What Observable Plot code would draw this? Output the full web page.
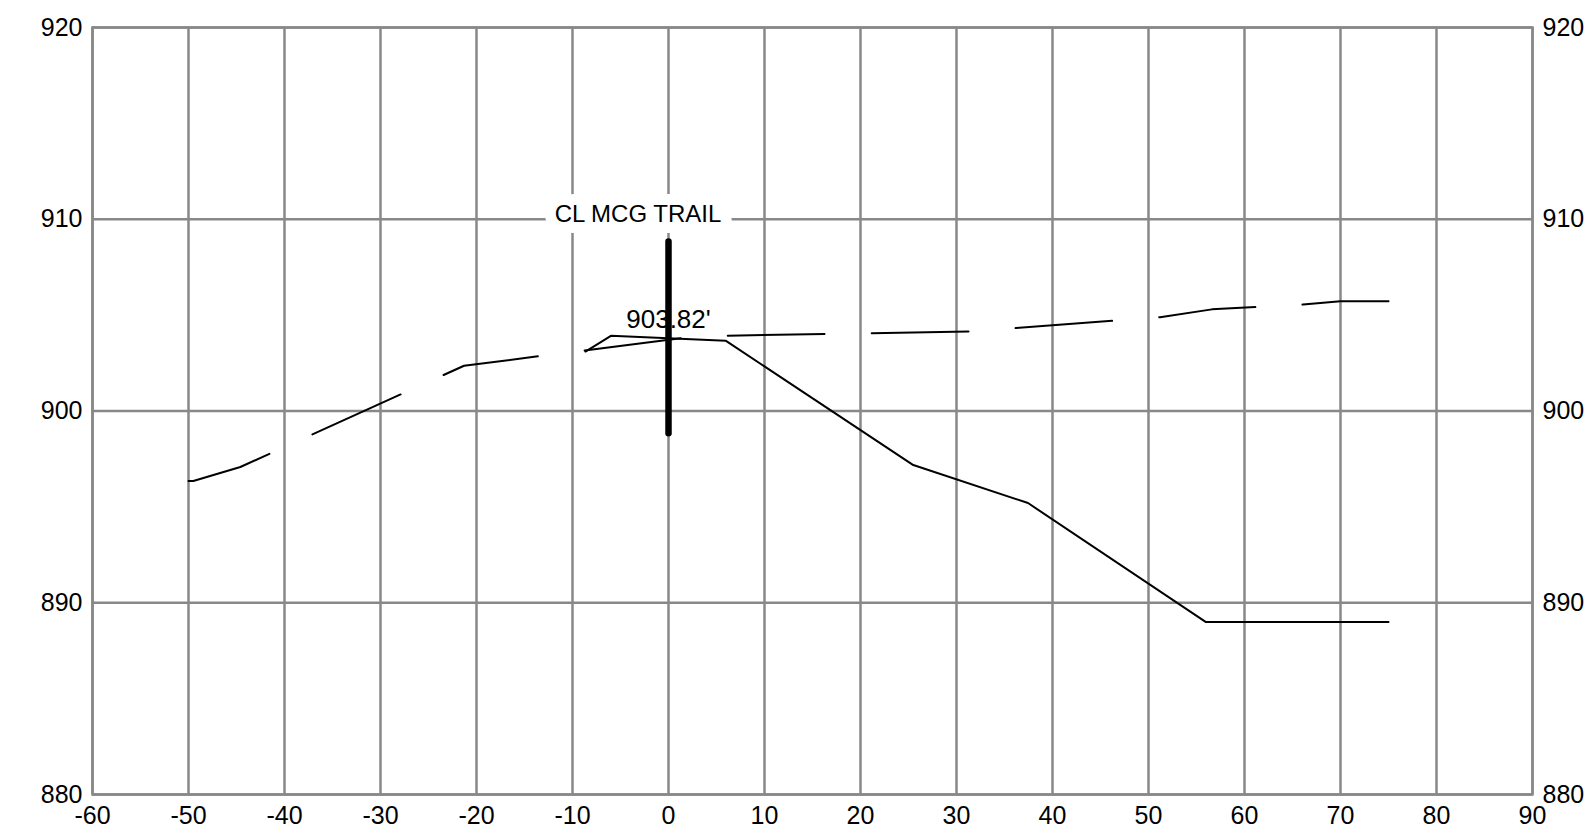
<!DOCTYPE html>
<html>
<head>
<meta charset="utf-8">
<script src="https://cdn.jsdelivr.net/npm/d3@7"></script>
<script src="https://cdn.jsdelivr.net/npm/@observablehq/plot@0.6"></script>
<style>
  html, body { margin: 0; padding: 0; background: #fff; }
  #chart svg { display: block; }
</style>
</head>
<body>
<div id="chart"></div>
<script>
// ---- data ----
const xTicks = [-60, -50, -40, -30, -20, -10, 0, 10, 20, 30, 40, 50, 60, 70, 80, 90];
const yTicks = [880, 890, 900, 910, 920];

// existing ground (dashed)
const groundOffset = [-50, -49.5, -44.6, -21.3, 2.9, 31.5, 51.2, 56.6, 66.1, 70.0, 75.0];
const groundElev   = [896.35, 896.35, 897.08, 902.36, 903.9, 904.15, 904.89, 905.3, 905.55, 905.72, 905.73];

// proposed section (solid)
const designOffset = [-8.65, -6.0, 5.95, 25.5, 37.45, 55.95, 75.0];
const designElev   = [903.1, 903.92, 903.67, 897.18, 895.2, 889.0, 889.0];

// centerline
const clOffset = 0;
const clElev = 903.82;
const clHalfLength = 5;
const clLabel = "CL MCG TRAIL";
const clLabelOffset = -3.18;
const clLabelElev = 910;
const elevLabel = "903.82'";

const ground = groundOffset.map((x, i) => ({x, y: groundElev[i]}));
const design = designOffset.map((x, i) => ({x, y: designElev[i]}));
const cl = [{x: clOffset, y1: clElev - clHalfLength, y2: clElev + clHalfLength, y: clElev}];
const clText = [{x: clLabelOffset, y: clLabelElev, text: clLabel}];
const elevText = [{x: clOffset, y: clElev, text: elevLabel}];

const gridStyle = {stroke: "#888", strokeOpacity: 1, strokeWidth: 2.5};
const font = "'Liberation Sans', Arial, Helvetica, sans-serif";
const fmt = d => String(d);

const chart = Plot.plot({
  width: 1593,
  height: 828,
  marginLeft: 92,
  marginRight: 61,
  marginTop: 27,
  marginBottom: 34,
  x: {domain: [-60, 90]},
  y: {domain: [880, 920]},
  style: {fontFamily: font, fontSize: "25px", color: "black", background: "white", overflow: "visible"},
  marks: [
    Plot.gridX(xTicks, gridStyle),
    Plot.gridY(yTicks, gridStyle),
    Plot.frame({stroke: "#888", strokeWidth: 2.5}),
    Plot.axisX(xTicks, {tickSize: 0, tickPadding: 12, fontSize: 25, label: null, tickFormat: fmt}),
    Plot.axisY(yTicks, {anchor: "left", tickSize: 0, tickPadding: 10, fontSize: 25, label: null, tickFormat: fmt}),
    Plot.axisY(yTicks, {anchor: "right", tickSize: 0, tickPadding: 10, fontSize: 25, label: null, tickFormat: fmt}),
    Plot.line(ground, {x: "x", y: "y", stroke: "black", strokeWidth: 2, strokeDasharray: "96.8,47.2", strokeDashoffset: 11}),
    Plot.line(design, {x: "x", y: "y", stroke: "black", strokeWidth: 2}),
    Plot.text(clText, {x: "x", y: "y", text: "text", fontSize: 24, lineAnchor: "bottom", dy: 3,
      fill: "black", stroke: "white", strokeWidth: 22, strokeLinejoin: "round"}),
    Plot.text(elevText, {x: "x", y: "y", text: "text", fontSize: 26, lineAnchor: "bottom", dy: -10, fill: "black"}),
    Plot.ruleX(cl, {x: "x", y1: "y1", y2: "y2", stroke: "black", strokeWidth: 6.5, strokeLinecap: "round"})
  ]
});
document.getElementById("chart").appendChild(chart);
</script>
</body>
</html>
